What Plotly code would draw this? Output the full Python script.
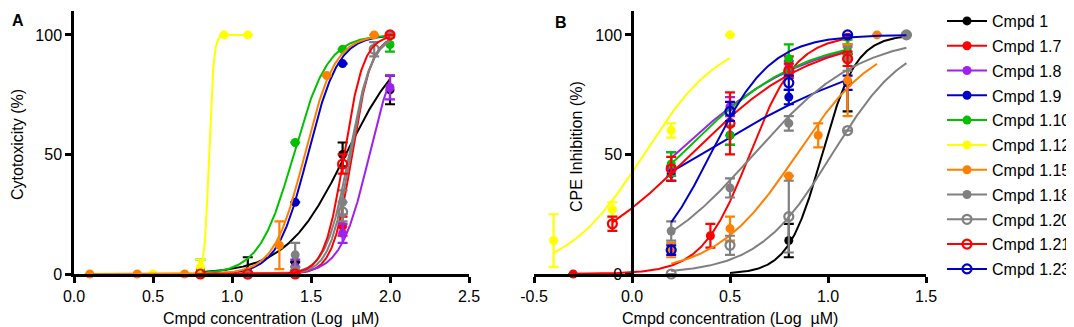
import numpy as np
import plotly.graph_objects as go

# ---------------- data ----------------
names = ["Cmpd 1", "Cmpd 1.7", "Cmpd 1.8", "Cmpd 1.9", "Cmpd 1.10", "Cmpd 1.12",
         "Cmpd 1.15", "Cmpd 1.18", "Cmpd 1.20", "Cmpd 1.21", "Cmpd 1.23"]
colors = ["#000000", "#FF0000", "#A020F0", "#0000C8", "#00C000", "#FFFF00",
          "#FF8000", "#808080", "#808080", "#FF0000", "#0000C8"]
hollow = [False, False, False, False, False, False, False, False, True, True, True]

# Panel A : cytotoxicity (%) vs log concentration
a_x = [[0.8, 1.1, 1.4, 1.7, 2.0],
       [0.8, 1.1, 1.4, 1.7, 2.0],
       [1.4, 1.7, 2.0],
       [1.1, 1.4, 1.7, 2.0],
       [0.8, 1.1, 1.4, 1.7, 2.0],
       [0.5, 0.8, 0.95, 1.1],
       [0.1, 0.4, 0.7, 1.3, 1.6, 1.9],
       [1.1, 1.4, 1.7, 2.0],
       [1.1, 1.4, 1.7, 1.9],
       [0.8, 1.1, 1.4, 1.7, 2.0],
       []]
a_y = [[0, 1, 5, 50, 77],
       [0, 0, 0, 20, 100],
       [3, 17, 78],
       [0, 30, 88, 100],
       [2, 0, 55, 94, 96],
       [0, 3, 100, 100],
       [0, 0, 0, 12, 83, 100],
       [0, 8, 30, 100],
       [0, 1, 26, 94],
       [0, 0, 0, 46, 100],
       []]
a_err = [[0, 6, 0, 5, 6],
         [0, 0, 0, 4, 0],
         [3, 4, 5],
         [0, 0, 0, 0],
         [4, 0, 0, 0, 3],
         [0, 3, 0, 0],
         [0, 0, 0, 10, 0, 0],
         [0, 5, 5, 0],
         [0, 2, 4, 3],
         [0, 0, 0, 4, 0],
         []]
# fitted dose-response curves: logEC50, Hill slope, x from, x to
a_fit = [[1.72, 2.3, 0.8, 2.0],
         [1.76, 7.0, 0.8, 2.0],
         [1.87, 4.8, 1.4, 2.0],
         [1.48, 4.5, 0.8, 2.0],
         [1.39, 4.0, 0.8, 2.0],
         [0.855, 30.0, 0.5, 1.1],
         [1.46, 4.5, 0.1, 1.9],
         [1.74, 6.0, 1.1, 2.0],
         [1.75, 6.5, 1.1, 2.0],
         [1.71, 7.0, 0.8, 2.0],
         None]

# Panel B : CPE inhibition (%) vs log concentration
b_x = [[0.8, 1.1, 1.4],
       [-0.3, 0.4, 0.8, 1.1],
       [0.2, 0.5, 0.8, 1.1],
       [0.2, 0.5, 0.8, 1.1],
       [0.2, 0.5, 0.8, 1.1],
       [-0.4, -0.1, 0.2, 0.5],
       [0.2, 0.5, 0.8, 0.95, 1.1, 1.25],
       [0.2, 0.5, 0.8, 1.1, 1.4],
       [0.2, 0.5, 0.8, 1.1, 1.4],
       [-0.1, 0.2, 0.5, 0.8, 1.1],
       [0.2, 0.5, 0.8, 1.1]]
b_y = [[14, 80, 100],
       [0, 16, 88, 99],
       [45, 70, 86, 93],
       [42, 58, 74, 80],
       [46, 58, 90, 95],
       [14, 27, 60, 100],
       [10, 19, 41, 58, 81, 100],
       [18, 36, 63, 90, 100],
       [0, 12, 24, 60, 100],
       [21, 44, 63, 85, 90],
       [10, 68, 80, 100]]
b_err = [[7, 12, 0],
         [0, 5, 3, 0],
         [6, 4, 3, 3],
         [3, 4, 3, 3],
         [5, 4, 6, 3],
         [11, 3, 3, 0],
         [3, 5, 0, 5, 15, 0],
         [4, 4, 3, 5, 0],
         [0, 4, 15, 0, 0],
         [3, 5, 13, 3, 3],
         [2, 4, 3, 0]]
b_fit = [[0.97, 5.0, 0.5, 1.4],
         [0.60, 3.6, -0.3, 1.1],
         [0.22, 1.3, 0.2, 1.1],
         [0.35, 0.85, 0.2, 1.1],
         [0.25, 1.4, 0.2, 1.1],
         [0.06, 2.2, -0.4, 0.5],
         [0.84, 2.1, 0.2, 1.25],
         [0.62, 1.6, 0.2, 1.4],
         [1.02, 2.3, 0.2, 1.4],
         [0.30, 1.4, -0.1, 1.1],
         [0.40, 2.8, 0.2, 1.4]]

a_ticks = [0.0, 0.5, 1.0, 1.5, 2.0, 2.5]
a_ticktext = ["0.0", "0.5", "1.0", "1.5", "2.0", "2.5"]
b_ticks = [-0.5, 0.0, 0.5, 1.0, 1.5]
b_ticktext = ["-0.5", "0.0", "0.5", "1.0", "1.5"]
y_ticks = [0, 50, 100]
y_ticktext = ["0", "50", "100"]

# ---------------- layout geometry ----------------
W, H = 1074, 327
ML, MR, MT, MB = 66, 156, 3, 61
PW, PH = W - ML - MR, H - MT - MB
FONT = "Liberation Sans, Arial, sans-serif"


def px(x):
    return (x - ML) / PW


def py(y):
    return (H - MB - y) / PH


def hill(x, ec50, h):
    return 100.0 / (1.0 + 10 ** ((ec50 - x) * h))


fig = go.Figure()


def add_panel(xs, ys, errs, fits, xa, ya):
    for i in range(len(names)):
        c = colors[i]
        f = fits[i]
        if f is not None:
            cx = np.linspace(f[2], f[3], 300)
            fig.add_trace(go.Scatter(x=cx, y=hill(cx, f[0], f[1]), mode="lines",
                                     line=dict(color=c, width=2), xaxis=xa, yaxis=ya,
                                     showlegend=False, hoverinfo="skip", cliponaxis=False))
        if xs[i]:
            e = [v if v else None for v in errs[i]]
            fig.add_trace(go.Scatter(
                x=xs[i], y=ys[i], mode="markers", xaxis=xa, yaxis=ya, showlegend=False,
                cliponaxis=False,
                marker=dict(symbol="circle-open" if hollow[i] else "circle", size=9,
                            color=c, line=dict(color=c, width=2.2 if hollow[i] else 0)),
                error_y=dict(type="data", array=e, color=c, thickness=2.2, width=5,
                             visible=True)))


add_panel(a_x, a_y, a_err, a_fit, "x", "y")
add_panel(b_x, b_y, b_err, b_fit, "x2", "y2")

# legend entries
for i in range(len(names)):
    c = colors[i]
    fig.add_trace(go.Scatter(
        x=[None], y=[None], mode="lines+markers", name=names[i], xaxis="x2", yaxis="y2",
        legendgroup=names[i],
        line=dict(color=c, width=2),
        marker=dict(symbol="circle-open" if hollow[i] else "circle", size=9, color=c,
                    line=dict(color=c, width=2.2 if hollow[i] else 0))))

axis_common = dict(showline=True, linecolor="black", linewidth=2.5, ticks="outside",
                   ticklen=6, tickwidth=2.5, tickcolor="black", showgrid=False,
                   zeroline=False, automargin=False,
                   tickfont=dict(family=FONT, size=16, color="black"))

fig.update_layout(
    width=W, height=H,
    margin=dict(l=ML, r=MR, t=MT, b=MB, pad=0, autoexpand=False),
    paper_bgcolor="white", plot_bgcolor="white",
    showlegend=True,
    legend=dict(x=px(934), xanchor="left", y=py(-4), yanchor="top",
                font=dict(family=FONT, size=16, color="black"),
                itemwidth=40, tracegroupgap=1, bgcolor="rgba(0,0,0,0)", maxheight=1.0),
    xaxis=dict(domain=[0, px(461)], range=[0, 2.5], tickvals=a_ticks, ticktext=a_ticktext,
               anchor="y", **axis_common),
    yaxis=dict(domain=[0, 1], range=[0, 110], tickvals=y_ticks, ticktext=y_ticktext,
               anchor="x", **axis_common),
    xaxis2=dict(domain=[px(526), 1.0], range=[-0.5, 1.5], tickvals=b_ticks,
                ticktext=b_ticktext, anchor="y2", **axis_common),
    yaxis2=dict(domain=[0, 1], range=[0, 110], tickvals=y_ticks, ticktext=y_ticktext,
                anchor="free", position=px(624), **axis_common),
)

ann_font = dict(family=FONT, size=16, color="black")
annotations = [
    dict(text="<b>A</b>", x=px(10), y=py(13)),
    dict(text="<b>B</b>", x=px(553), y=py(15)),
    dict(text="Cytotoxicity (%)", x=px(9), y=py(137), textangle=-90),
    dict(text="CPE Inhibition (%)", x=px(568), y=py(139), textangle=-90),
    dict(text="Cmpd concentration (Log  \u00b5M)", x=px(263), y=py(310)),
    dict(text="Cmpd concentration (Log  \u00b5M)", x=px(722), y=py(310)),
]
for a in annotations:
    a.update(xref="paper", yref="paper", showarrow=False, xanchor="center",
             yanchor="middle", font=ann_font)
fig.update_layout(annotations=annotations)

fig.write_html("out.html")
